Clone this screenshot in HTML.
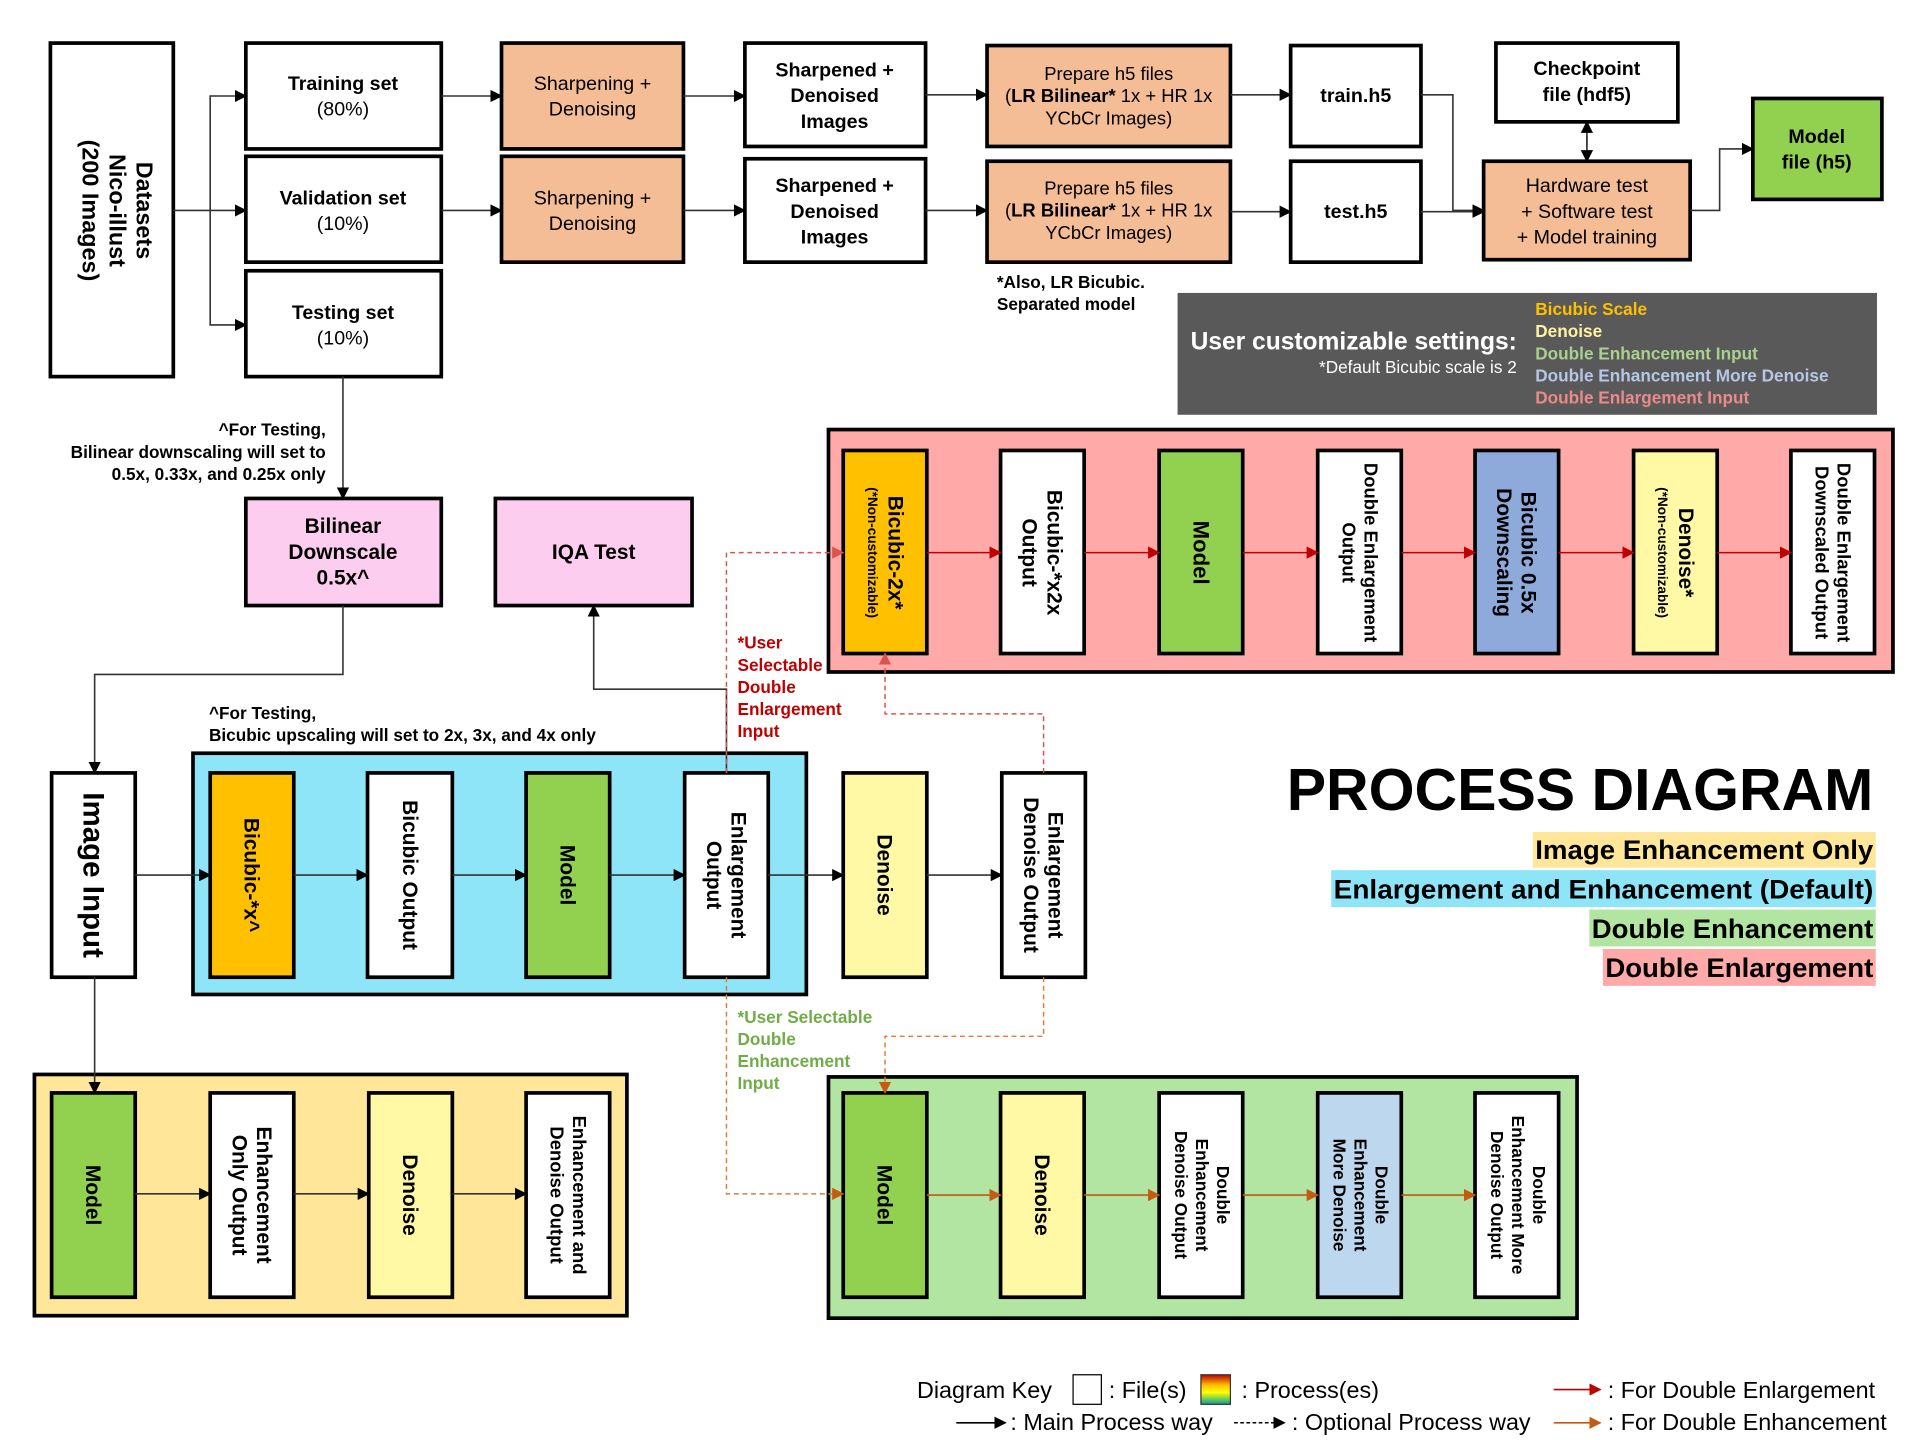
<!DOCTYPE html>
<html><head><meta charset="utf-8"><style>
html,body{margin:0;padding:0;background:#fff;}
svg{display:block;}
text{font-family:"Liberation Sans",sans-serif;}
.n{font-family:"Liberation Sans Narrow","Liberation Sans",sans-serif;}
.b{font-weight:bold;}
</style></head><body>
<svg width="1920" height="1440" viewBox="0 0 1562 1170" preserveAspectRatio="none" xmlns="http://www.w3.org/2000/svg">
<defs>
<marker id="ak" markerWidth="10" markerHeight="10" refX="9" refY="5" orient="auto" markerUnits="userSpaceOnUse"><path d="M0,0 L10,5 L0,10z" fill="#000"/></marker>
<marker id="ar" markerWidth="10" markerHeight="10" refX="9" refY="5" orient="auto" markerUnits="userSpaceOnUse"><path d="M0,0 L10,5 L0,10z" fill="#c00000"/></marker>
<marker id="ao" markerWidth="10" markerHeight="10" refX="9" refY="5" orient="auto" markerUnits="userSpaceOnUse"><path d="M0,0 L10,5 L0,10z" fill="#c55a11"/></marker>
<marker id="ard" markerWidth="10" markerHeight="10" refX="9" refY="5" orient="auto" markerUnits="userSpaceOnUse"><path d="M0,0 L10,5 L0,10z" fill="#d9534f"/></marker>
<linearGradient id="rb" x1="0" y1="0" x2="0" y2="1"><stop offset="0" stop-color="#c00000"/><stop offset="0.35" stop-color="#ffc000"/><stop offset="0.6" stop-color="#ffff00"/><stop offset="1" stop-color="#00a0a0"/></linearGradient>
</defs>
<g stroke="#000" stroke-width="3">
<rect x="41" y="35" width="100" height="271" fill="#fff"/>
<rect x="200" y="35" width="159" height="86" fill="#fff"/>
<rect x="200" y="127" width="159" height="86" fill="#fff"/>
<rect x="200" y="220" width="159" height="86" fill="#fff"/>
<rect x="408" y="35" width="148" height="86" fill="#f5bd96"/>
<rect x="408" y="127" width="148" height="86" fill="#f5bd96"/>
<rect x="606" y="35" width="147" height="84" fill="#fff"/>
<rect x="606" y="129" width="147" height="84" fill="#fff"/>
<rect x="803" y="37" width="198" height="82" fill="#f5bd96"/>
<rect x="803" y="131" width="198" height="82" fill="#f5bd96"/>
<rect x="1050" y="37" width="106" height="82" fill="#fff"/>
<rect x="1050" y="131" width="106" height="82" fill="#fff"/>
<rect x="1217" y="35" width="148" height="64" fill="#fff"/>
<rect x="1207" y="131" width="168" height="80" fill="#f5bd96"/>
<rect x="1426" y="80" width="105" height="82" fill="#92d050"/>
<rect x="674" y="349" width="866" height="197" fill="#ffa9a9"/>
<rect x="157" y="612" width="499" height="196" fill="#8fe5f8"/>
<rect x="28" y="873" width="482" height="196" fill="#ffe699"/>
<rect x="674" y="875" width="609" height="196" fill="#b3e5a2"/>
<rect x="686" y="366" width="68" height="165" fill="#ffc000"/>
<rect x="814" y="366" width="68" height="165" fill="#fff"/>
<rect x="943" y="366" width="68" height="165" fill="#92d050"/>
<rect x="1072" y="366" width="68" height="165" fill="#fff"/>
<rect x="1200" y="366" width="68" height="165" fill="#8eaadb"/>
<rect x="1329" y="366" width="68" height="165" fill="#fff9a6"/>
<rect x="1457" y="366" width="68" height="165" fill="#fff"/>
<rect x="200" y="405" width="159" height="87" fill="#fccdee"/>
<rect x="403" y="405" width="160" height="87" fill="#fccdee"/>
<rect x="42" y="628" width="68" height="166" fill="#fff"/>
<rect x="171" y="628" width="68" height="166" fill="#ffc000"/>
<rect x="299" y="628" width="69" height="166" fill="#fff"/>
<rect x="428" y="628" width="68" height="166" fill="#92d050"/>
<rect x="557" y="628" width="68" height="166" fill="#fff"/>
<rect x="686" y="628" width="68" height="166" fill="#fff9a6"/>
<rect x="815" y="628" width="68" height="166" fill="#fff"/>
<rect x="42" y="888" width="68" height="166" fill="#92d050"/>
<rect x="171" y="888" width="68" height="166" fill="#fff"/>
<rect x="300" y="888" width="68" height="166" fill="#fff9a6"/>
<rect x="428" y="888" width="68" height="166" fill="#fff"/>
<rect x="686" y="888" width="68" height="166" fill="#92d050"/>
<rect x="814" y="888" width="68" height="166" fill="#fff9a6"/>
<rect x="943" y="888" width="68" height="166" fill="#fff"/>
<rect x="1072" y="888" width="68" height="166" fill="#bdd7ee"/>
<rect x="1200" y="888" width="68" height="166" fill="#fff"/>
</g>
<rect x="958" y="238" width="569" height="99" fill="#595959"/>

<g stroke="#333" stroke-width="1.3" fill="none" marker-end="url(#ak)">
<path d="M141,171 H171 V78 H200"/>
<path d="M171,171 H200"/>
<path d="M171,171 V264 H200"/>
<path d="M359,78 H408"/><path d="M359,171 H408"/>
<path d="M556,78 H606"/><path d="M556,171 H606"/>
<path d="M753,77 H803"/><path d="M753,171 H803"/>
<path d="M1001,77 H1050"/><path d="M1001,172 H1050"/>
<path d="M1156,77 H1182 V171 H1207"/>
<path d="M1156,172 H1207"/>
<path d="M1375,171 H1399 V121 H1426"/>
<path d="M1291,110 V131"/>
<path d="M279,306 V405"/>
<path d="M279,492 V548 H77 V628"/>
<path d="M110,711 H171"/>
<path d="M239,711 H299"/><path d="M368,711 H428"/><path d="M496,711 H557"/><path d="M625,711 H686"/><path d="M754,711 H815"/>
<path d="M591,628 V560 H483 V492"/>
<path d="M77,794 V888"/>
<path d="M110,970 H171"/><path d="M239,970 H300"/><path d="M368,970 H428"/>
</g>
<path d="M1291,120 V99" stroke="#333" stroke-width="1.3" marker-end="url(#ak)"/>
<g stroke="#c00000" stroke-width="1.3" fill="none" marker-end="url(#ar)">
<path d="M754,449 H814"/><path d="M882,449 H943"/><path d="M1011,449 H1072"/><path d="M1140,449 H1200"/><path d="M1268,449 H1329"/><path d="M1397,449 H1457"/>
</g>
<g stroke="#d9534f" stroke-width="1.2" fill="none" stroke-dasharray="4,3" marker-end="url(#ard)">
<path d="M591,628 V449 H686"/>
<path d="M849,628 V580 H720 V531"/>
</g>
<g stroke="#c55a11" stroke-width="1.3" fill="none" marker-end="url(#ao)">
<path d="M754,971 H814"/><path d="M882,971 H943"/><path d="M1011,971 H1072"/><path d="M1140,971 H1200"/>
</g>
<g stroke="#e07b39" stroke-width="1.2" fill="none" stroke-dasharray="4,3" marker-end="url(#ao)">
<path d="M591,794 V970 H686"/>
<path d="M849,794 V842 H720 V888"/>
</g>

<g text-anchor="middle" font-size="16">
<text transform="translate(91,171) rotate(90)" class="b" font-size="19"><tspan x="0" y="-20">Datasets</tspan><tspan x="0" y="2">Nico-illust</tspan><tspan x="0" y="24">(200 Images)</tspan></text>
<text class="n" x="279" y="73"><tspan class="b">Training set</tspan><tspan x="279" dy="21">(80%)</tspan></text>
<text class="n" x="279" y="166"><tspan class="b">Validation set</tspan><tspan x="279" dy="21">(10%)</tspan></text>
<text class="n" x="279" y="259"><tspan class="b">Testing set</tspan><tspan x="279" dy="21">(10%)</tspan></text>
<text class="n" x="482" y="73">Sharpening +<tspan x="482" dy="21">Denoising</tspan></text>
<text class="n" x="482" y="166">Sharpening +<tspan x="482" dy="21">Denoising</tspan></text>
<text class="n b" x="679" y="62">Sharpened +<tspan x="679" dy="21">Denoised</tspan><tspan x="679" dy="21">Images</tspan></text>
<text class="n b" x="679" y="156">Sharpened +<tspan x="679" dy="21">Denoised</tspan><tspan x="679" dy="21">Images</tspan></text>
<text class="n" x="902" y="65" font-size="15">Prepare h5 files<tspan x="902" dy="18">(<tspan class="b">LR Bilinear*</tspan> 1x + HR 1x</tspan><tspan x="902" dy="18">YCbCr Images)</tspan></text>
<text class="n" x="902" y="158" font-size="15">Prepare h5 files<tspan x="902" dy="18">(<tspan class="b">LR Bilinear*</tspan> 1x + HR 1x</tspan><tspan x="902" dy="18">YCbCr Images)</tspan></text>
<text class="n b" x="1103" y="83">train.h5</text>
<text class="n b" x="1103" y="177">test.h5</text>
<text class="n b" x="1291" y="61">Checkpoint<tspan x="1291" dy="21">file (hdf5)</tspan></text>
<text class="n" x="1291" y="156">Hardware test<tspan x="1291" dy="21">+ Software test</tspan><tspan x="1291" dy="21">+ Model training</tspan></text>
<text class="n b" x="1478" y="116">Model<tspan x="1478" dy="21">file (h5)</tspan></text>
</g>
<text class="n b" x="811" y="234" font-size="14">*Also, LR Bicubic.<tspan x="811" dy="18">Separated model</tspan></text>
<text class="n b" x="1234" y="284" text-anchor="end" font-size="20" fill="#fff">User customizable settings:</text>
<text class="n" x="1234" y="303" text-anchor="end" font-size="14" fill="#fff">*Default Bicubic scale is 2</text>
<g class="n b" font-size="14">
<text x="1249" y="256" fill="#ffc000">Bicubic Scale</text>
<text x="1249" y="274" fill="#fff2a0">Denoise</text>
<text x="1249" y="292" fill="#a9d18e">Double Enhancement Input</text>
<text x="1249" y="310" fill="#b4c7e7">Double Enhancement More Denoise</text>
<text x="1249" y="328" fill="#ea8a8a">Double Enlargement Input</text>
</g>

<g text-anchor="middle" class="b">
<text transform="translate(720,449) rotate(90)" font-size="17"><tspan x="0" y="-3">Bicubic-2x*</tspan><tspan x="0" y="14" font-size="11">(*Non-customizable)</tspan></text>
<text transform="translate(848,449) rotate(90)" font-size="17"><tspan x="0" y="-4">Bicubic-*x2x</tspan><tspan x="0" y="16">Output</tspan></text>
<text transform="translate(977,449) rotate(90)" font-size="18"><tspan x="0" y="6">Model</tspan></text>
<text transform="translate(1106,449) rotate(90)" font-size="15"><tspan x="0" y="-4">Double Enlargement</tspan><tspan x="0" y="14">Output</tspan></text>
<text transform="translate(1234,449) rotate(90)" font-size="17"><tspan x="0" y="-4">Bicubic 0.5x</tspan><tspan x="0" y="16">Downscaling</tspan></text>
<text transform="translate(1363,449) rotate(90)" font-size="17"><tspan x="0" y="-3">Denoise*</tspan><tspan x="0" y="14" font-size="11">(*Non-customizable)</tspan></text>
<text transform="translate(1491,449) rotate(90)" font-size="15"><tspan x="0" y="-4">Double Enlargement</tspan><tspan x="0" y="14">Downscaled Output</tspan></text>
</g>
<text class="n b" x="279" y="433" text-anchor="middle" font-size="17">Bilinear<tspan x="279" dy="21">Downscale</tspan><tspan x="279" dy="21">0.5x^</tspan></text>
<text class="n b" x="483" y="454" text-anchor="middle" font-size="17">IQA Test</text>
<text class="n b" x="265" y="354" text-anchor="end" font-size="14">^For Testing,<tspan x="265" dy="18">Bilinear downscaling will set to</tspan><tspan x="265" dy="18">0.5x, 0.33x, and 0.25x only</tspan></text>
<text class="n b" x="170" y="584" font-size="14">^For Testing,<tspan x="170" dy="18">Bicubic upscaling will set to 2x, 3x, and 4x only</tspan></text>
<text class="n b" x="600" y="527" font-size="14" fill="#c00000">*User<tspan x="600" dy="18">Selectable</tspan><tspan x="600" dy="18">Double</tspan><tspan x="600" dy="18">Enlargement</tspan><tspan x="600" dy="18">Input</tspan></text>
<text class="n b" x="600" y="831" font-size="14" fill="#70ad47">*User Selectable<tspan x="600" dy="18">Double</tspan><tspan x="600" dy="18">Enhancement</tspan><tspan x="600" dy="18">Input</tspan></text>

<g text-anchor="middle" class="b">
<text transform="translate(76,711) rotate(90)" font-size="24"><tspan x="0" y="8">Image Input</tspan></text>
<text transform="translate(205,711) rotate(90)" font-size="17"><tspan x="0" y="6">Bicubic-*x^</tspan></text>
<text transform="translate(334,711) rotate(90)" font-size="17"><tspan x="0" y="6">Bicubic Output</tspan></text>
<text transform="translate(462,711) rotate(90)" font-size="17"><tspan x="0" y="6">Model</tspan></text>
<text transform="translate(591,711) rotate(90)" font-size="17"><tspan x="0" y="-4">Enlargement</tspan><tspan x="0" y="16">Output</tspan></text>
<text transform="translate(720,711) rotate(90)" font-size="17"><tspan x="0" y="6">Denoise</tspan></text>
<text transform="translate(849,711) rotate(90)" font-size="17"><tspan x="0" y="-4">Enlargement</tspan><tspan x="0" y="16">Denoise Output</tspan></text>
<text transform="translate(76,971) rotate(90)" font-size="17"><tspan x="0" y="6">Model</tspan></text>
<text transform="translate(205,971) rotate(90)" font-size="17"><tspan x="0" y="-4">Enhancement</tspan><tspan x="0" y="16">Only Output</tspan></text>
<text transform="translate(334,971) rotate(90)" font-size="17"><tspan x="0" y="6">Denoise</tspan></text>
<text transform="translate(462,971) rotate(90)" font-size="15"><tspan x="0" y="-4">Enhancement and</tspan><tspan x="0" y="14">Denoise Output</tspan></text>
<text transform="translate(720,971) rotate(90)" font-size="17"><tspan x="0" y="6">Model</tspan></text>
<text transform="translate(848,971) rotate(90)" font-size="17"><tspan x="0" y="6">Denoise</tspan></text>
<text transform="translate(977,971) rotate(90)" font-size="14"><tspan x="0" y="-13">Double</tspan><tspan x="0" y="4">Enhancement</tspan><tspan x="0" y="21">Denoise Output</tspan></text>
<text transform="translate(1106,971) rotate(90)" font-size="14"><tspan x="0" y="-13">Double</tspan><tspan x="0" y="4">Enhancement</tspan><tspan x="0" y="21">More Denoise</tspan></text>
<text transform="translate(1234,971) rotate(90)" font-size="14"><tspan x="0" y="-13">Double</tspan><tspan x="0" y="4">Enhancement  More</tspan><tspan x="0" y="21">Denoise Output</tspan></text>
</g>

<text class="b" x="1524" y="658" text-anchor="end" font-size="48">PROCESS DIAGRAM</text>
<rect x="1247" y="676" width="279" height="29" fill="#ffe699"/>
<rect x="1083" y="707" width="443" height="30" fill="#8fe5f8"/>
<rect x="1293" y="739" width="233" height="30" fill="#b3e5a2"/>
<rect x="1304" y="771" width="222" height="30" fill="#ffa9a9"/>
<g class="n b" text-anchor="end" font-size="22">
<text x="1524" y="698" textLength="275" lengthAdjust="spacingAndGlyphs">Image Enhancement Only</text>
<text x="1524" y="730" textLength="439" lengthAdjust="spacingAndGlyphs">Enlargement and Enhancement (Default)</text>
<text x="1524" y="762" textLength="229" lengthAdjust="spacingAndGlyphs">Double Enhancement</text>
<text x="1524" y="794" textLength="218" lengthAdjust="spacingAndGlyphs">Double Enlargement</text>
</g>

<g class="n" font-size="19">
<text x="746" y="1136">Diagram Key</text>
<rect x="873" y="1117" width="23" height="24" fill="#fff" stroke="#000" stroke-width="1"/>
<text x="902" y="1136">: File(s)</text>
<rect x="977" y="1117" width="24" height="24" fill="url(#rb)" stroke="#333" stroke-width="1"/>
<text x="1010" y="1136">: Process(es)</text>
<text x="1308" y="1136">: For Double Enlargement</text>
<text x="822" y="1162">: Main Process way</text>
<text x="1051" y="1162">: Optional Process way</text>
<text x="1308" y="1162">: For Double Enhancement</text>
</g>
<path d="M1264,1129 H1302" stroke="#c00000" stroke-width="1.3" marker-end="url(#ar)"/>
<path d="M778,1156 H818" stroke="#000" stroke-width="1.3" marker-end="url(#ak)"/>
<path d="M1004,1156 H1045" stroke="#000" stroke-width="1.2" stroke-dasharray="3,2" marker-end="url(#ak)"/>
<path d="M1264,1156 H1302" stroke="#c55a11" stroke-width="1.3" marker-end="url(#ao)"/>
</svg>
</body></html>
